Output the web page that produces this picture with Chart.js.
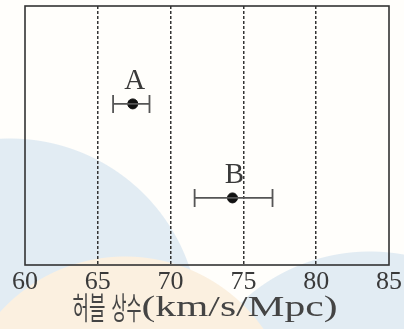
<!DOCTYPE html>
<html>
<head>
<meta charset="utf-8">
<script src="https://cdn.jsdelivr.net/npm/chart.js@4/dist/chart.umd.min.js"></script>
<style>
  html, body { margin: 0; padding: 0; }
  body {
    width: 404px; height: 329px; overflow: hidden;
    background:
      radial-gradient(circle at 125px 425px, #fbf0e0 0 168px, transparent 169px),
      radial-gradient(circle at 10px 328px, #e2ecf3 0 189px, transparent 190px),
      radial-gradient(circle at 370px 440px, #e2ecf3 0 188px, transparent 189px),
      #fffefb;
  }
  #wrap { position: relative; width: 404px; height: 329px; }
</style>
</head>
<body>
<div id="wrap"><canvas id="hubble"></canvas></div>
<script>
// data
var labels = ['A', 'B'];
var centers = [67.4, 74.25];
var lows = [66.05, 71.65];
var highs = [68.55, 77.0];
var rows = [6.22, 2.59];
var xTicks = [60, 65, 70, 75, 80, 85];
var titleKo = ['허블', '상수'];
var titleEn = '(km/s/Mpc)';

var serif = '"Liberation Serif", "DejaVu Serif", serif';
var ink = '#3a3a3a';

// draw text squeezed or stretched to a given width
function fitText(ctx, text, x, y, width) {
  var w = ctx.measureText(text).width;
  ctx.save();
  ctx.translate(x, y);
  ctx.scale(width / w, 1);
  ctx.fillText(text, 0, 0);
  ctx.restore();
}

// error bars, A/B labels, frame and axis title
var errorBars = {
  id: 'errorBars',
  afterDatasetsDraw: function (chart) {
    var ctx = chart.ctx;
    var x = chart.scales.x, y = chart.scales.y;
    ctx.save();
    ctx.strokeStyle = '#555';
    ctx.lineWidth = 1.8;
    for (var i = 0; i < centers.length; i++) {
      var yy = y.getPixelForValue(rows[i]);
      var x0 = x.getPixelForValue(lows[i]);
      var x1 = x.getPixelForValue(highs[i]);
      ctx.beginPath();
      ctx.moveTo(x0, yy); ctx.lineTo(x1, yy);
      ctx.moveTo(x0, yy - 9); ctx.lineTo(x0, yy + 9);
      ctx.moveTo(x1, yy - 9); ctx.lineTo(x1, yy + 9);
      ctx.stroke();
      ctx.fillStyle = ink;
      ctx.font = '29px ' + serif;
      ctx.textAlign = 'center';
      ctx.textBaseline = 'alphabetic';
      ctx.fillText(labels[i], x.getPixelForValue(centers[i]) + 2, yy - 15);
    }
    var a = chart.chartArea;
    ctx.strokeStyle = '#333';
    ctx.lineWidth = 1.6;
    ctx.strokeRect(a.left, a.top, a.right - a.left, a.bottom - a.top);
    ctx.restore();
  },
  afterDraw: function (chart) {
    var ctx = chart.ctx;
    var a = chart.chartArea;
    var left = (a.left + a.right) / 2 - 2 - 265 / 2;
    var base = 316;
    ctx.save();
    ctx.fillStyle = '#444';
    ctx.textAlign = 'left';
    ctx.textBaseline = 'alphabetic';
    ctx.font = '31px "Noto Sans CJK KR", sans-serif';
    fitText(ctx, titleKo[0], left, base + 3, 33);
    fitText(ctx, titleKo[1], left + 39, base + 3, 30);
    ctx.font = '29px ' + serif;
    fitText(ctx, titleEn, left + 69, base, 196);
    ctx.restore();
  }
};

var pts = centers.map(function (c, i) { return { x: c, y: rows[i] }; });

new Chart(document.getElementById('hubble'), {
  type: 'scatter',
  data: {
    datasets: [{
      data: pts,
      backgroundColor: '#111',
      borderColor: '#111',
      pointRadius: 5,
      pointHoverRadius: 5
    }]
  },
  options: {
    responsive: true,
    maintainAspectRatio: false,
    animation: false,
    events: [],
    layout: { padding: { left: 25, right: 11, top: 6, bottom: 0 } },
    plugins: {
      legend: { display: false },
      tooltip: { enabled: false }
    },
    scales: {
      x: {
        type: 'linear',
        min: 60,
        max: 85,
        afterBuildTicks: function (axis) {
          axis.ticks = xTicks.map(function (v) { return { value: v }; });
        },
        afterFit: function (axis) {
          axis.height = 64;
        },
        border: { display: false, dash: [3, 2] },
        grid: {
          drawTicks: false,
          color: function (c) {
            return (c.tick.value === 60 || c.tick.value === 85) ? 'rgba(0,0,0,0)' : '#333';
          },
          lineWidth: 1.5
        },
        ticks: {
          padding: 2,
          color: ink,
          font: { family: serif, size: 26 },
          maxRotation: 0
        },
        title: { display: false }
      },
      y: {
        display: false,
        min: 0,
        max: 10
      }
    }
  },
  plugins: [errorBars]
});
</script>
</body>
</html>
